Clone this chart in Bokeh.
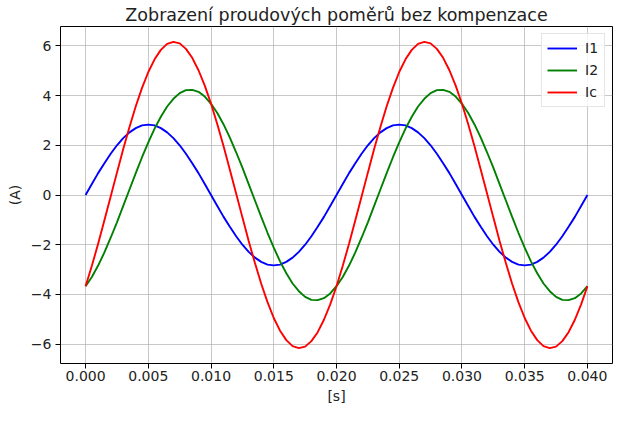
from bokeh.plotting import figure
from bokeh.models import Range1d, FixedTicker, NumeralTickFormatter, Legend, LegendItem
from bokeh.embed import file_html
from bokeh.resources import INLINE

# sampling times [s], 0.0005 s step over 0..0.04
t = [k * 0.0005 for k in range(81)]

i1 = [0.00, 0.44, 0.88, 1.28, 1.66, 2.00, 2.29, 2.52, 2.69, 2.80, 2.83, 2.80, 2.69, 2.52, 2.29, 2.00, 1.66, 1.28, 0.88, 0.44,
      0.00, -0.44, -0.88, -1.28, -1.66, -2.00, -2.29, -2.52, -2.69, -2.80, -2.83, -2.80, -2.69, -2.52, -2.29, -2.00, -1.66, -1.28, -0.88, -0.44,
      0.00, 0.44, 0.88, 1.28, 1.66, 2.00, 2.29, 2.52, 2.69, 2.80, 2.83, 2.80, 2.69, 2.52, 2.29, 2.00, 1.66, 1.28, 0.88, 0.44,
      0.00, -0.44, -0.88, -1.28, -1.66, -2.00, -2.29, -2.52, -2.69, -2.80, -2.83, -2.80, -2.69, -2.52, -2.29, -2.00, -1.66, -1.28, -0.88, -0.44,
      0.00]

i2 = [-3.67, -3.30, -2.84, -2.31, -1.72, -1.10, -0.44, 0.22, 0.88, 1.52, 2.12, 2.67, 3.15, 3.56, 3.87, 4.10, 4.22, 4.23, 4.15, 3.96,
      3.67, 3.30, 2.84, 2.31, 1.72, 1.10, 0.44, -0.22, -0.88, -1.52, -2.12, -2.67, -3.15, -3.56, -3.87, -4.10, -4.22, -4.23, -4.15, -3.96,
      -3.67, -3.30, -2.84, -2.31, -1.72, -1.10, -0.44, 0.22, 0.88, 1.52, 2.12, 2.67, 3.15, 3.56, 3.87, 4.10, 4.22, 4.23, 4.15, 3.96,
      3.67, 3.30, 2.84, 2.31, 1.72, 1.10, 0.44, -0.22, -0.88, -1.52, -2.12, -2.67, -3.15, -3.56, -3.87, -4.10, -4.22, -4.23, -4.15, -3.96,
      -3.67]

ic = [-3.67, -2.85, -1.96, -1.02, -0.06, 0.90, 1.85, 2.74, 3.57, 4.31, 4.95, 5.46, 5.84, 6.08, 6.16, 6.10, 5.88, 5.52, 5.02, 4.40,
      3.67, 2.85, 1.96, 1.02, 0.06, -0.90, -1.85, -2.74, -3.57, -4.31, -4.95, -5.46, -5.84, -6.08, -6.16, -6.10, -5.88, -5.52, -5.02, -4.40,
      -3.67, -2.85, -1.96, -1.02, -0.06, 0.90, 1.85, 2.74, 3.57, 4.31, 4.95, 5.46, 5.84, 6.08, 6.16, 6.10, 5.88, 5.52, 5.02, 4.40,
      3.67, 2.85, 1.96, 1.02, 0.06, -0.90, -1.85, -2.74, -3.57, -4.31, -4.95, -5.46, -5.84, -6.08, -6.16, -6.10, -5.88, -5.52, -5.02, -4.40,
      -3.67]

series_names = ["I1", "I2", "Ic"]
series_colors = ["#0000ff", "#008000", "#ff0000"]

x_ticks = [0.0, 0.005, 0.010, 0.015, 0.020, 0.025, 0.030, 0.035, 0.040]
y_ticks = [-6, -4, -2, 0, 2, 4, 6]

title_text = "Zobrazení proudových poměrů bez kompenzace"
x_label = "[s]"
y_label = "(A)"

FONT = "DejaVu Sans"

p = figure(width=616, height=406, output_backend="svg", toolbar_location=None,
           x_range=Range1d(-0.002, 0.042), y_range=Range1d(-6.78, 6.78),
           min_border_left=60, min_border_right=4, min_border_top=25, min_border_bottom=40)

p.title.text = title_text
p.title.align = "center"
p.title.text_font = FONT
p.title.text_font_size = "17.5px"
p.title.text_font_style = "normal"
p.title.text_color = "#222222"
p.title.standoff = 4

p.outline_line_color = "#000000"
p.outline_line_width = 1
p.background_fill_color = "white"
p.border_fill_color = "white"

renderers = []
for ys, c in zip([i1, i2, ic], series_colors):
    r = p.line(t, ys, line_color=c, line_width=1.9)
    renderers.append(r)

# axes
p.xaxis.ticker = FixedTicker(ticks=x_ticks)
p.xaxis.formatter = NumeralTickFormatter(format="0.000")
p.yaxis.ticker = FixedTicker(ticks=y_ticks)
p.yaxis.major_label_overrides = {v: (("\u2212" + str(-v)) if v < 0 else str(v)) for v in y_ticks}

for ax in (p.xaxis, p.yaxis):
    ax.axis_line_color = None
    ax.major_tick_in = 0
    ax.major_tick_out = 5
    ax.major_tick_line_color = "#000000"
    ax.minor_tick_line_color = None
    ax.major_label_text_font = FONT
    ax.major_label_text_font_size = "14px"
    ax.major_label_text_color = "#222222"
    ax.axis_label_text_font = FONT
    ax.axis_label_text_font_size = "14px"
    ax.axis_label_text_font_style = "normal"
    ax.axis_label_text_color = "#222222"

p.xaxis.major_label_standoff = 2
p.yaxis.major_label_standoff = 4
p.xaxis.axis_label = x_label
p.yaxis.axis_label = y_label
p.xaxis.axis_label_standoff = 4
p.yaxis.axis_label_standoff = 5

p.xgrid.ticker = FixedTicker(ticks=x_ticks)
p.ygrid.ticker = FixedTicker(ticks=y_ticks)
for g in (p.xgrid, p.ygrid):
    g.grid_line_color = "#b0b0b0"
    g.grid_line_width = 1
    g.grid_line_alpha = 0.7

legend = Legend(items=[LegendItem(label=n, renderers=[r]) for n, r in zip(series_names, renderers)],
                location="top_right")
legend.label_text_font = FONT
legend.label_text_font_size = "14px"
legend.label_text_color = "#222222"
legend.glyph_width = 30
legend.glyph_height = 18
legend.label_height = 18
legend.label_width = 14
legend.label_standoff = 8
legend.spacing = 4
legend.padding = 5
legend.margin = 7
legend.border_line_color = "#cccccc"
legend.border_line_width = 1
legend.background_fill_alpha = 0.8
p.add_layout(legend, "center")

open("out.html", "w").write(file_html(p, INLINE))
